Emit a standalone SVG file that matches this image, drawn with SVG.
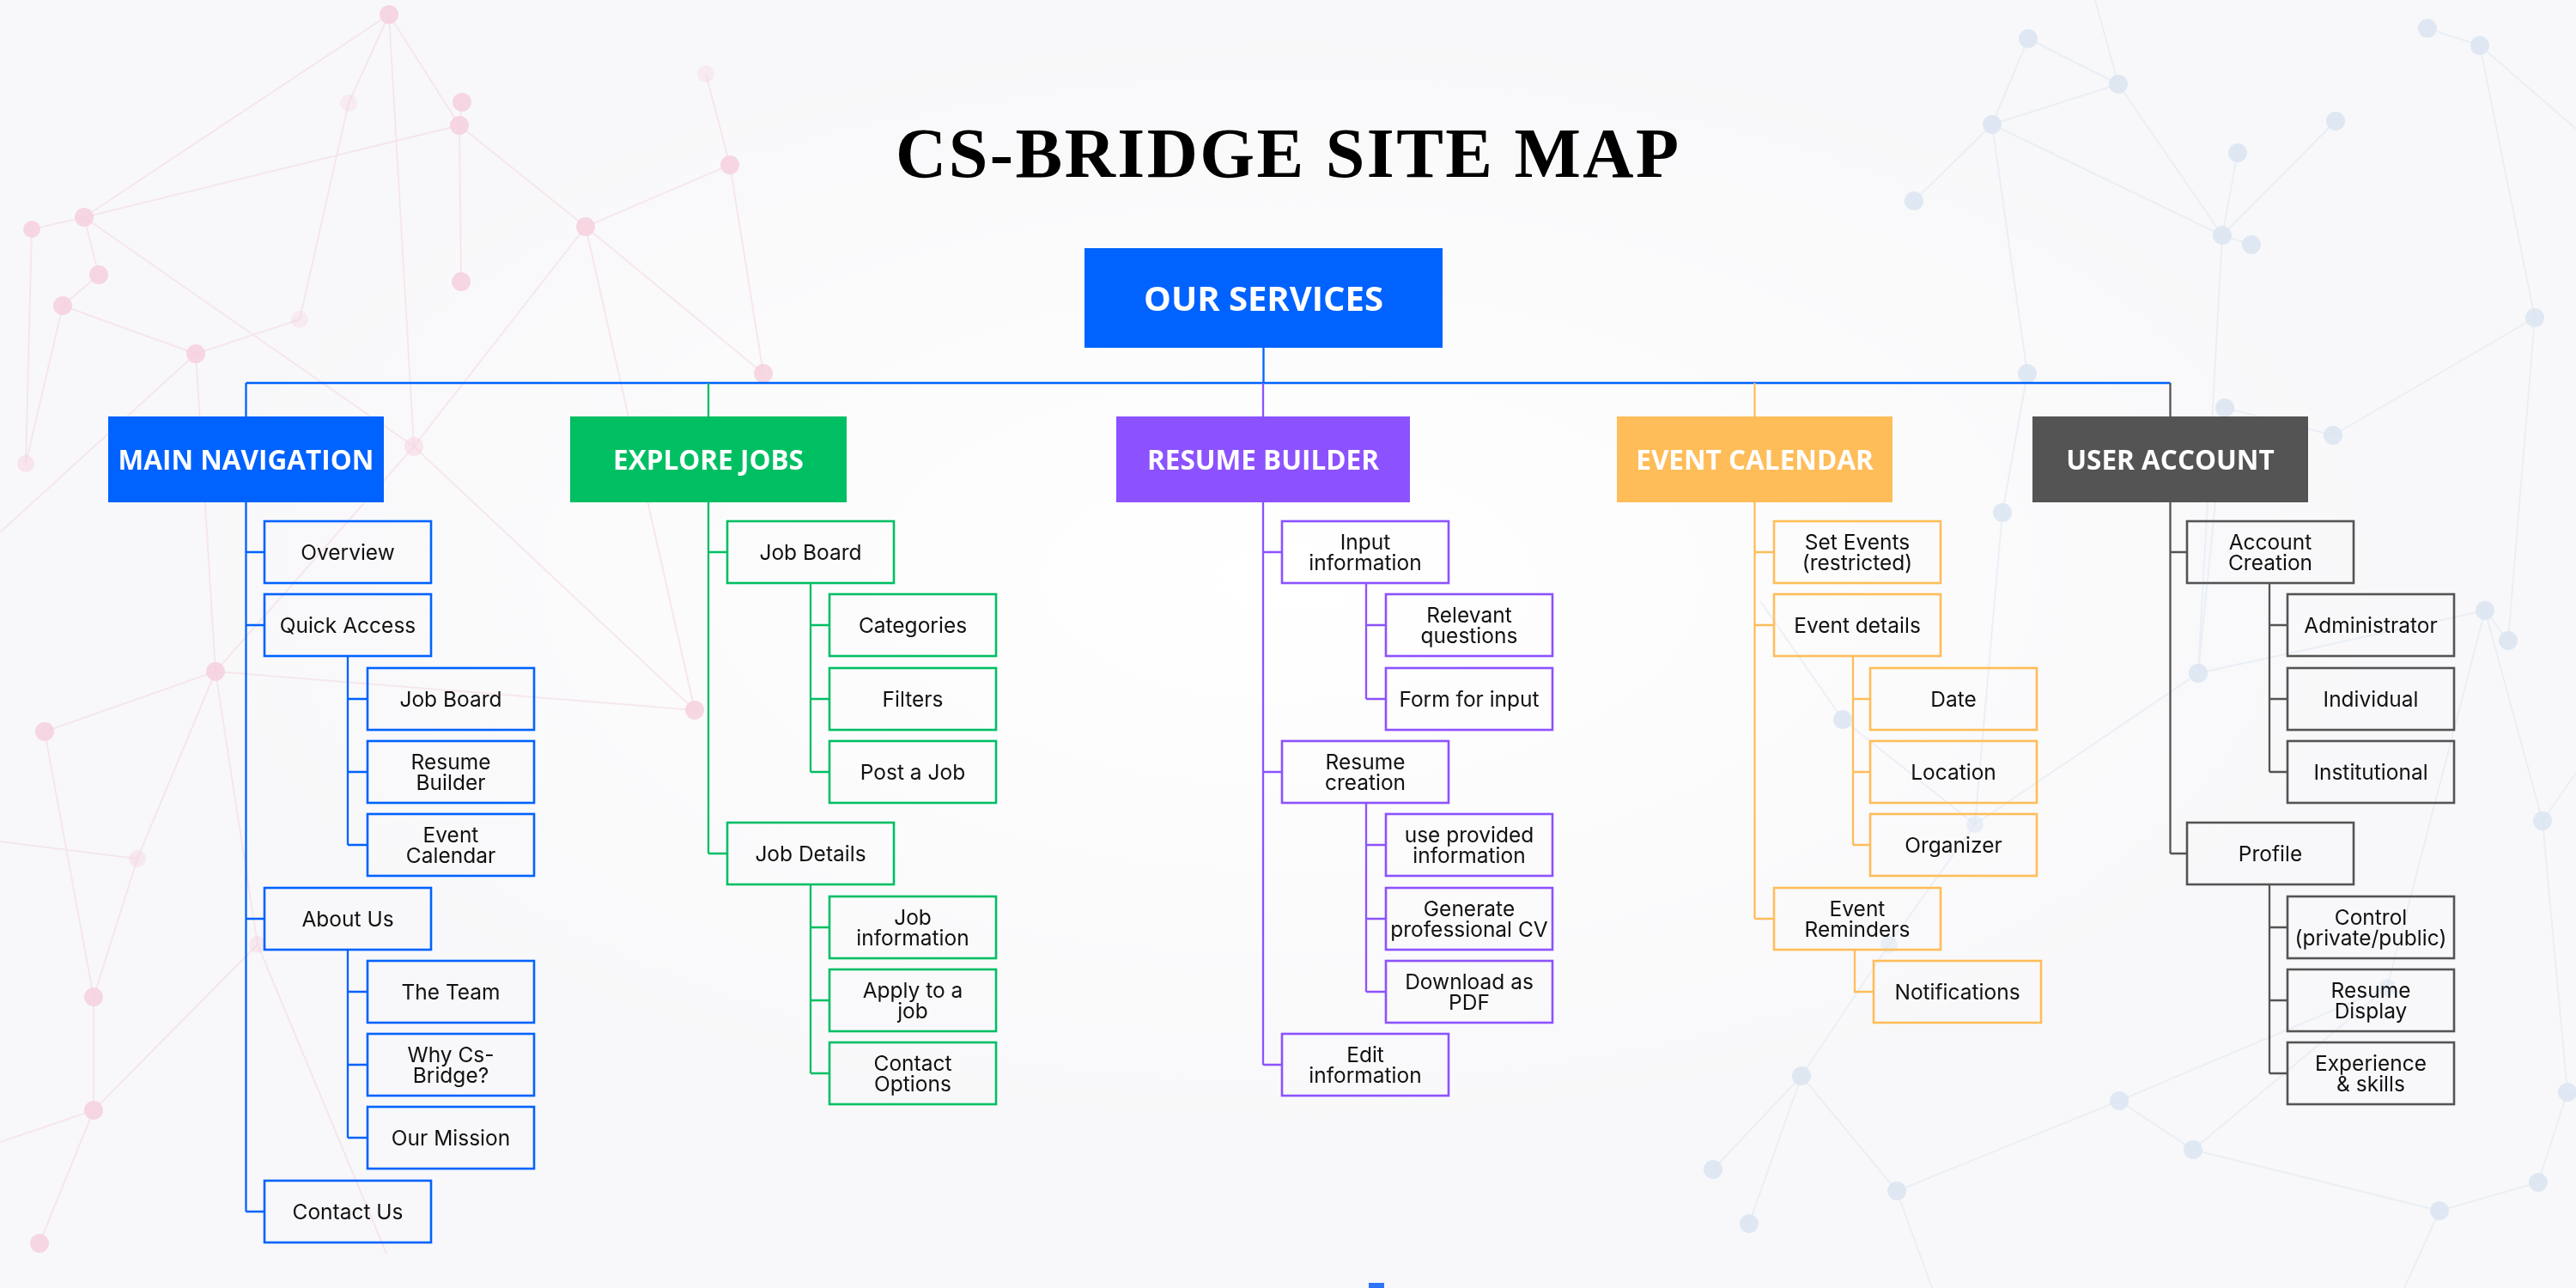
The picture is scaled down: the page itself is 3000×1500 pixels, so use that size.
<svg xmlns="http://www.w3.org/2000/svg" width="3000" height="1500" viewBox="0 0 3000 1500">
<defs>
<radialGradient id="glow" cx="0.5" cy="0.45" r="0.45">
<stop offset="0" stop-color="#ffffff" stop-opacity="1"/>
<stop offset="1" stop-color="#ffffff" stop-opacity="0"/>
</radialGradient>
<style>
.pl{stroke:#f3dbe4;stroke-width:2;fill:none;opacity:0.6}
.pn{fill:#f6d0dd;opacity:0.85}
.bl{stroke:#e2e9f2;stroke-width:2;fill:none;opacity:0.65}
.bn{fill:#dbe5f1;opacity:0.85}
.box{fill:none;stroke-width:2.6}
.hb{stroke:none}
.ht{font-family:"Open Sans","Liberation Sans",sans-serif;font-weight:700;font-size:31.5px;fill:#ffffff;text-anchor:middle}
.ht-top{font-size:40px}
.lbl{font-family:Inter,"Liberation Sans",sans-serif;font-size:24.5px;fill:#111111;text-anchor:middle}
.blue{stroke:#0062FF}
.green{stroke:#00BF63}
.purple{stroke:#8C52FF}
.orange{stroke:#FFBD59}
.grey{stroke:#545454}
.cn{fill:none;stroke-width:2.3}
</style>
</defs>
<g id="background">
<rect x="0" y="0" width="3000" height="1500" fill="#f8f8fa"/>
<rect x="0" y="0" width="3000" height="1500" fill="url(#glow)"/>
<g id="bg-pink">
<path class="pl" d="M98 253L37 267M98 253L115 320M115 320L73 356M98 253L453 17M98 253L535 146M98 253L482 520M535 146L682 264M538 119L535 146M535 146L537 328M682 264L850 192M682 264L889 435M682 264L809 827M682 264L482 520M850 192L889 435M453 17L482 520M73 356L228 412M228 412L251 782M482 520L251 782M251 782L52 852M251 782L809 827M482 520L809 827M52 852L109 1161M109 1161L109 1293M109 1293L46 1448M160 1000L109 1161M160 1000L251 782M300 1100L251 782M300 1100L109 1293M30 540L73 356M30 540L37 267M453 17L406 120M406 120L349 372M349 372L228 412M822 86L850 192M453 17L535 146M0 620L228 412M0 980L160 1000M300 1100L450 1460M109 1293L0 1330"/>
<g class="pn">
<circle cx="453" cy="17" r="11"/><circle cx="538" cy="119" r="11"/><circle cx="535" cy="146" r="11"/><circle cx="98" cy="253" r="11"/><circle cx="37" cy="267" r="10"/><circle cx="115" cy="320" r="11"/><circle cx="73" cy="356" r="11"/><circle cx="228" cy="412" r="11"/><circle cx="682" cy="264" r="11"/><circle cx="850" cy="192" r="11"/><circle cx="537" cy="328" r="11"/><circle cx="889" cy="435" r="11"/><circle cx="482" cy="520" r="11" opacity="0.6"/><circle cx="251" cy="782" r="11"/><circle cx="52" cy="852" r="11"/><circle cx="809" cy="827" r="11"/><circle cx="406" cy="120" r="10" opacity="0.4"/><circle cx="349" cy="372" r="10" opacity="0.4"/><circle cx="822" cy="86" r="10" opacity="0.4"/><circle cx="109" cy="1161" r="11"/><circle cx="109" cy="1293" r="11"/><circle cx="46" cy="1448" r="11"/><circle cx="30" cy="540" r="10" opacity="0.6"/><circle cx="160" cy="1000" r="10" opacity="0.5"/><circle cx="300" cy="1100" r="10" opacity="0.5"/>
</g>
</g>
<g id="bg-blue">
<path class="bl" d="M2362 45L2467 98M2362 45L2320 145M2320 145L2229 234M2320 145L2467 98M2467 98L2588 274M2320 145L2588 274M2606 178L2588 274M2588 274L2720 141M2588 274L2622 285M2588 274L2560 784M2827 33L2888 53M2888 53L2952 370M2952 370L2921 746M2952 370L2717 507M2320 145L2361 435M2361 435L2332 597M2717 507L2591 475M2591 475L2560 784M2894 711L2560 784M2894 711L2921 746M2894 711L2961 956M2560 784L2300 960M2300 960L2146 838M2300 960L2200 1100M2200 1100L2098 1253M2098 1253L1995 1362M2098 1253L2037 1425M2098 1253L2209 1387M2209 1387L2468 1282M2468 1282L2554 1339M2554 1339L2841 1410M2841 1410L2956 1377M2956 1377L2990 1272M2990 1272L2961 956M2554 1339L2780 1150M2780 1150L2894 711M2780 1150L2468 1282M2332 597L2300 960M2467 98L2440 0M2888 53L3000 150M2961 956L3000 900M2146 838L2050 700M2209 1387L2250 1500M2841 1410L2800 1500"/>
<g class="bn">
<circle cx="2362" cy="45" r="11"/><circle cx="2467" cy="98" r="11"/><circle cx="2320" cy="145" r="11"/><circle cx="2229" cy="234" r="11"/><circle cx="2720" cy="141" r="11"/><circle cx="2606" cy="178" r="11"/><circle cx="2588" cy="274" r="11"/><circle cx="2622" cy="285" r="11"/><circle cx="2827" cy="33" r="11"/><circle cx="2888" cy="53" r="11"/><circle cx="2952" cy="370" r="11"/><circle cx="2361" cy="435" r="11"/><circle cx="2332" cy="597" r="11"/><circle cx="2717" cy="507" r="11"/><circle cx="2591" cy="475" r="11"/><circle cx="2894" cy="711" r="11"/><circle cx="2560" cy="784" r="11"/><circle cx="2146" cy="838" r="11"/><circle cx="2098" cy="1253" r="11"/><circle cx="1995" cy="1362" r="11"/><circle cx="2037" cy="1425" r="11"/><circle cx="2209" cy="1387" r="11"/><circle cx="2468" cy="1282" r="11"/><circle cx="2554" cy="1339" r="11"/><circle cx="2841" cy="1410" r="11"/><circle cx="2956" cy="1377" r="11"/><circle cx="2990" cy="1272" r="11"/><circle cx="2961" cy="956" r="11"/><circle cx="2921" cy="746" r="11"/><circle cx="2200" cy="1100" r="10" opacity="0.6"/><circle cx="2780" cy="1150" r="10" opacity="0.6"/><circle cx="2300" cy="960" r="10" opacity="0.6"/>
</g>
</g>
</g>
<text id="title" x="1499" y="206" text-anchor="middle" font-family="'Liberation Serif','Times New Roman',serif" font-weight="700" font-size="82" fill="#000000" textLength="912" lengthAdjust="spacing">CS-BRIDGE SITE MAP</text>
<g id="connectors">
<path class="cn blue" stroke-width="2" d="M1471.5 405V446"/>
<path class="cn blue" d="M286.5 446H2527.5"/>
<path class="cn blue" d="M286.5 446V485"/>
<path class="cn green" d="M825 446V485"/>
<path class="cn purple" d="M1471 446V485"/>
<path class="cn orange" d="M2043.5 446V485"/>
<path class="cn grey" d="M2527.5 446V485"/>
<path class="cn blue" d="M286.5 585V1411M286.5 643H308M286.5 728H308M286.5 1070H308M286.5 1411H308M405 764V984M405 814H428M405 899H428M405 984H428M405 1106V1325M405 1155H428M405 1240H428M405 1325H428"/>
<path class="cn green" d="M825 585V994M825 643H847M825 994H847M944 679V899M944 728H966M944 814H966M944 899H966M944 1030V1250M944 1080H966M944 1165H966M944 1250H966"/>
<path class="cn purple" d="M1471 585V1240M1471 643H1493M1471 899H1493M1471 1240H1493M1591 679V814M1591 728H1614M1591 814H1614M1591 935V1155M1591 984H1614M1591 1070H1614M1591 1155H1614"/>
<path class="cn orange" d="M2043.5 585V1070M2043.5 643H2066M2043.5 728H2066M2043.5 1070H2066M2158 764V984M2158 814H2178M2158 899H2178M2158 984H2178M2160 1106V1155H2182"/>
<path class="cn grey" d="M2527.5 585V994M2527.5 643H2547M2527.5 994H2547M2643 679V899M2643 728H2664M2643 814H2664M2643 899H2664M2643 1030V1250M2643 1080H2664M2643 1165H2664M2643 1250H2664"/>
</g>
<g id="our-services"><rect class="hb" x="1263" y="289" width="417" height="116" fill="#0062FF"/><text class="ht ht-top" x="1471.5" y="361.5">OUR SERVICES</text></g>
<g id="main-navigation"><rect class="hb" x="126" y="485" width="321" height="100" fill="#0062FF"/><text class="ht" x="286.5" y="546.5">MAIN NAVIGATION</text></g>
<g id="explore-jobs"><rect class="hb" x="664" y="485" width="322" height="100" fill="#00BF63"/><text class="ht" x="825" y="546.5">EXPLORE JOBS</text></g>
<g id="resume-builder"><rect class="hb" x="1300" y="485" width="342" height="100" fill="#8C52FF"/><text class="ht" x="1471" y="546.5">RESUME BUILDER</text></g>
<g id="event-calendar"><rect class="hb" x="1883" y="485" width="321" height="100" fill="#FFBD59"/><text class="ht" x="2043.5" y="546.5">EVENT CALENDAR</text></g>
<g id="user-account"><rect class="hb" x="2367" y="485" width="321" height="100" fill="#545454"/><text class="ht" x="2527.5" y="546.5">USER ACCOUNT</text></g>
<g id="mn-overview"><rect class="box blue" x="308" y="607" width="194" height="72"/><text class="lbl" x="405" y="652">Overview</text></g>
<g id="mn-quick-access"><rect class="box blue" x="308" y="692" width="194" height="72"/><text class="lbl" x="405" y="737">Quick Access</text></g>
<g id="mn-job-board"><rect class="box blue" x="428" y="778" width="194" height="72"/><text class="lbl" x="525" y="823">Job Board</text></g>
<g id="mn-resume-builder"><rect class="box blue" x="428" y="863" width="194" height="72"/><text class="lbl"><tspan x="525" y="896">Resume</tspan><tspan x="525" y="920">Builder</tspan></text></g>
<g id="mn-event-calendar"><rect class="box blue" x="428" y="948" width="194" height="72"/><text class="lbl"><tspan x="525" y="981">Event</tspan><tspan x="525" y="1005">Calendar</tspan></text></g>
<g id="mn-about-us"><rect class="box blue" x="308" y="1034" width="194" height="72"/><text class="lbl" x="405" y="1079">About Us</text></g>
<g id="mn-the-team"><rect class="box blue" x="428" y="1119" width="194" height="72"/><text class="lbl" x="525" y="1164">The Team</text></g>
<g id="mn-why"><rect class="box blue" x="428" y="1204" width="194" height="72"/><text class="lbl"><tspan x="525" y="1237">Why Cs-</tspan><tspan x="525" y="1261">Bridge?</tspan></text></g>
<g id="mn-our-mission"><rect class="box blue" x="428" y="1289" width="194" height="72"/><text class="lbl" x="525" y="1334">Our Mission</text></g>
<g id="mn-contact-us"><rect class="box blue" x="308" y="1375" width="194" height="72"/><text class="lbl" x="405" y="1420">Contact Us</text></g>
<g id="ej-job-board"><rect class="box green" x="847" y="607" width="194" height="72"/><text class="lbl" x="944" y="652">Job Board</text></g>
<g id="ej-categories"><rect class="box green" x="966" y="692" width="194" height="72"/><text class="lbl" x="1063" y="737">Categories</text></g>
<g id="ej-filters"><rect class="box green" x="966" y="778" width="194" height="72"/><text class="lbl" x="1063" y="823">Filters</text></g>
<g id="ej-post-job"><rect class="box green" x="966" y="863" width="194" height="72"/><text class="lbl" x="1063" y="908">Post a Job</text></g>
<g id="ej-job-details"><rect class="box green" x="847" y="958" width="194" height="72"/><text class="lbl" x="944" y="1003">Job Details</text></g>
<g id="ej-job-information"><rect class="box green" x="966" y="1044" width="194" height="72"/><text class="lbl"><tspan x="1063" y="1077">Job</tspan><tspan x="1063" y="1101">information</tspan></text></g>
<g id="ej-apply"><rect class="box green" x="966" y="1129" width="194" height="72"/><text class="lbl"><tspan x="1063" y="1162">Apply to a</tspan><tspan x="1063" y="1186">job</tspan></text></g>
<g id="ej-contact-options"><rect class="box green" x="966" y="1214" width="194" height="72"/><text class="lbl"><tspan x="1063" y="1247">Contact</tspan><tspan x="1063" y="1271">Options</tspan></text></g>
<g id="rb-input-information"><rect class="box purple" x="1493" y="607" width="194" height="72"/><text class="lbl"><tspan x="1590" y="640">Input</tspan><tspan x="1590" y="664">information</tspan></text></g>
<g id="rb-relevant-questions"><rect class="box purple" x="1614" y="692" width="194" height="72"/><text class="lbl"><tspan x="1711" y="725">Relevant</tspan><tspan x="1711" y="749">questions</tspan></text></g>
<g id="rb-form-input"><rect class="box purple" x="1614" y="778" width="194" height="72"/><text class="lbl" x="1711" y="823">Form for input</text></g>
<g id="rb-resume-creation"><rect class="box purple" x="1493" y="863" width="194" height="72"/><text class="lbl"><tspan x="1590" y="896">Resume</tspan><tspan x="1590" y="920">creation</tspan></text></g>
<g id="rb-use-provided"><rect class="box purple" x="1614" y="948" width="194" height="72"/><text class="lbl"><tspan x="1711" y="981">use provided</tspan><tspan x="1711" y="1005">information</tspan></text></g>
<g id="rb-generate-cv"><rect class="box purple" x="1614" y="1034" width="194" height="72"/><text class="lbl"><tspan x="1711" y="1067">Generate</tspan><tspan x="1711" y="1091">professional CV</tspan></text></g>
<g id="rb-download-pdf"><rect class="box purple" x="1614" y="1119" width="194" height="72"/><text class="lbl"><tspan x="1711" y="1152">Download as</tspan><tspan x="1711" y="1176">PDF</tspan></text></g>
<g id="rb-edit-information"><rect class="box purple" x="1493" y="1204" width="194" height="72"/><text class="lbl"><tspan x="1590" y="1237">Edit</tspan><tspan x="1590" y="1261">information</tspan></text></g>
<g id="ec-set-events"><rect class="box orange" x="2066" y="607" width="194" height="72"/><text class="lbl"><tspan x="2163" y="640">Set Events</tspan><tspan x="2163" y="664">(restricted)</tspan></text></g>
<g id="ec-event-details"><rect class="box orange" x="2066" y="692" width="194" height="72"/><text class="lbl" x="2163" y="737">Event details</text></g>
<g id="ec-date"><rect class="box orange" x="2178" y="778" width="194" height="72"/><text class="lbl" x="2275" y="823">Date</text></g>
<g id="ec-location"><rect class="box orange" x="2178" y="863" width="194" height="72"/><text class="lbl" x="2275" y="908">Location</text></g>
<g id="ec-organizer"><rect class="box orange" x="2178" y="948" width="194" height="72"/><text class="lbl" x="2275" y="993">Organizer</text></g>
<g id="ec-event-reminders"><rect class="box orange" x="2066" y="1034" width="194" height="72"/><text class="lbl"><tspan x="2163" y="1067">Event</tspan><tspan x="2163" y="1091">Reminders</tspan></text></g>
<g id="ec-notifications"><rect class="box orange" x="2182" y="1119" width="195" height="72"/><text class="lbl" x="2279.5" y="1164">Notifications</text></g>
<g id="ua-account-creation"><rect class="box grey" x="2547" y="607" width="194" height="72"/><text class="lbl"><tspan x="2644" y="640">Account</tspan><tspan x="2644" y="664">Creation</tspan></text></g>
<g id="ua-administrator"><rect class="box grey" x="2664" y="692" width="194" height="72"/><text class="lbl" x="2761" y="737">Administrator</text></g>
<g id="ua-individual"><rect class="box grey" x="2664" y="778" width="194" height="72"/><text class="lbl" x="2761" y="823">Individual</text></g>
<g id="ua-institutional"><rect class="box grey" x="2664" y="863" width="194" height="72"/><text class="lbl" x="2761" y="908">Institutional</text></g>
<g id="ua-profile"><rect class="box grey" x="2547" y="958" width="194" height="72"/><text class="lbl" x="2644" y="1003">Profile</text></g>
<g id="ua-control"><rect class="box grey" x="2664" y="1044" width="194" height="72"/><text class="lbl"><tspan x="2761" y="1077">Control</tspan><tspan x="2761" y="1101">(private/public)</tspan></text></g>
<g id="ua-resume-display"><rect class="box grey" x="2664" y="1129" width="194" height="72"/><text class="lbl"><tspan x="2761" y="1162">Resume</tspan><tspan x="2761" y="1186">Display</tspan></text></g>
<g id="ua-experience"><rect class="box grey" x="2664" y="1214" width="194" height="72"/><text class="lbl"><tspan x="2761" y="1247">Experience</tspan><tspan x="2761" y="1271">&amp; skills</tspan></text></g>
<rect id="bottom-mark" x="1594" y="1494" width="18" height="6" fill="#2f74ff"/>
</svg>
